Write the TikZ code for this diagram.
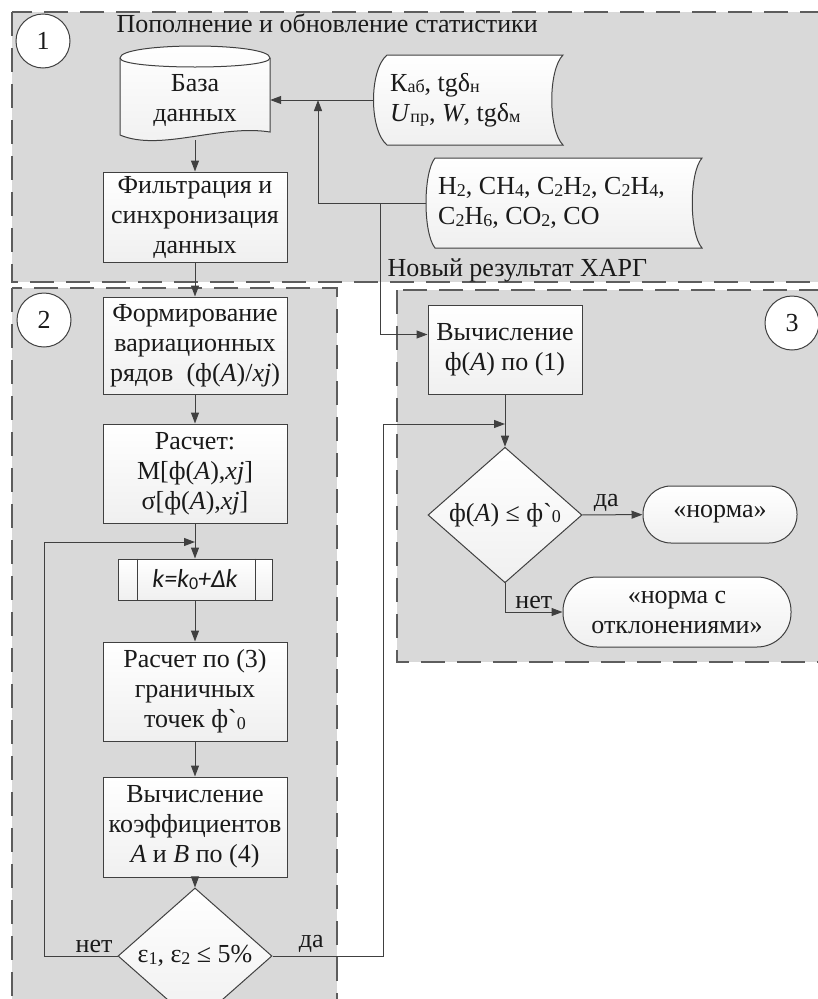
\documentclass[tikz,border=0pt]{standalone}
\usepackage{fontspec}
\setmainfont{Liberation Serif}
\newfontfamily\calfont{Carlito}
\usetikzlibrary{shapes.geometric,arrows.meta}
\definecolor{zone}{HTML}{D9D9D9}
\definecolor{ink}{HTML}{404040}
\definecolor{txt}{HTML}{1A1A1A}
\newcommand\lo[1]{\raisebox{-0.06em}{\fontsize{18}{18}\selectfont #1}}

\begin{document}
\begin{tikzpicture}[x=1pt,y=-1pt,
  font=\fontsize{26}{30}\selectfont, text=txt,
  zonebox/.style={draw=ink!85,fill=zone,line width=1.2pt,dash pattern=on 24pt off 12pt},
  blk/.style={draw=ink,line width=1pt,top color=white,bottom color=gray!12,
    minimum width=184pt,align=center,inner sep=2pt},
  dec/.style={blk,shape=diamond,minimum width=154pt,minimum height=86pt,inner sep=0pt},
  term/.style={blk,rounded corners=28pt},
  num/.style={circle,draw=ink,line width=1pt,fill=white,minimum size=54pt,inner sep=0pt},
  lnk/.style={draw=ink,line width=1pt},
  arr/.style={lnk,-{Triangle[length=11pt,width=8pt]}},
  lbl/.style={inner sep=3pt}]
\useasboundingbox (0,0) rectangle (818,999);

% zones
\draw[zonebox] (12,12) rectangle (850,282);
\draw[zonebox] (12,288) rectangle (337,1030);
\draw[zonebox] (397,290) rectangle (850,662);

\node[num] (n1) at (43,41) {1};
\node[num] (n2) at (44,320) {2};
\node[num] (n3) at (792,323) {3};

\node[anchor=base west] (ttl) at (113,32) {Пополнение и обновление статистики};
\node[anchor=base west] (harg) at (384,276) {Новый результат ХАРГ};

% database
\path[top color=white,bottom color=gray!12] (120,58) .. controls (120,42) and (270,42) .. (270,58)
  -- (270,132) .. controls (220,124) and (160,152) .. (120,135) -- cycle;
\draw[lnk] (120,58) .. controls (120,42) and (270,42) .. (270,58)
  -- (270,132) .. controls (220,124) and (160,152) .. (120,135) -- cycle;
\draw[lnk] (120,58) .. controls (120,70) and (270,70) .. (270,58);
\node[align=center,minimum width=150pt,minimum height=80pt] (db) at (195,100) {База\\данных};

% stored data
\path[top color=white,bottom color=gray!12] (387,55) -- (563,55) .. controls (548,70) and (548,130) .. (563,145)
  -- (387,145) .. controls (369,130) and (369,70) .. cycle;
\draw[lnk] (387,55) -- (563,55) .. controls (548,70) and (548,130) .. (563,145)
  -- (387,145) .. controls (369,130) and (369,70) .. cycle;
\node[anchor=west,align=left,inner xsep=17pt] (kab) at (373,100)
  {К\lo{аб}, tgδ\lo{н}\\\textit{U}\lo{пр}, \textit{W}, tgδ\lo{м}};

\path[top color=white,bottom color=gray!12] (435,158) -- (702,158) .. controls (689,173) and (689,233) .. (702,248)
  -- (435,248) .. controls (423,233) and (423,173) .. cycle;
\draw[lnk] (435,158) -- (702,158) .. controls (689,173) and (689,233) .. (702,248)
  -- (435,248) .. controls (423,233) and (423,173) .. cycle;
\node[anchor=west,align=left,inner xsep=12pt] (gas) at (426,203)
  {H\lo{2}, CH\lo{4}, C\lo{2}H\lo{2}, C\lo{2}H\lo{4},\\C\lo{2}H\lo{6}, CO\lo{2}, CO};

\node[blk,minimum height=90pt] (filt) at (195,217) {Фильтрация и\\синхронизация\\данных};

% zone 2
\node[blk,minimum height=97pt] (form) at (195,345.5) {Формирование\\вариационных\\рядов~ (ф(\textit{A})/\textit{xj})};
\node[blk,minimum height=99pt] (rasch) at (195,473.5) {Расчет:\\М[ф(\textit{A}),\textit{xj}]\\σ[ф(\textit{A}),\textit{xj}]};
\node[blk,minimum width=154pt,minimum height=41pt,font=\calfont\itshape\fontsize{26}{30}\selectfont]
  (kstep) at (195,579.5) {k=k\lo{\upshape 0}+Δk};
\draw[lnk] ([xshift=20pt]kstep.north west) -- ([xshift=20pt]kstep.south west);
\draw[lnk] ([xshift=-17pt]kstep.north east) -- ([xshift=-17pt]kstep.south east);
\node[blk,minimum height=99pt] (bound) at (195,691.5) {Расчет по (3)\\граничных\\точек ф\textasciigrave\lo{0}};
\node[blk,minimum height=100pt] (coef) at (195,827) {Вычисление\\коэффициентов\\\textit{A} и \textit{B} по (4)};
\node[dec] (eps) at (195,956) {ε\lo{1}, ε\lo{2} ≤ 5\%};

% zone 3
\node[blk,minimum width=154pt,minimum height=89pt] (calc) at (505,349.5) {Вычисление\\ф(\textit{A}) по (1)};
\node[dec] (dia) at (505,515) {ф(\textit{A}) ≤ ф\textasciigrave\lo{0}};
\node[term,minimum width=154pt,minimum height=57pt] (norm) at (720,514.5) {«норма»};
\node[term,minimum width=228pt,minimum height=70pt,rounded corners=34pt] (nwd) at (677,612) {«норма с\\отклонениями»};

\coordinate (up) at (318,100);
\coordinate (split) at (380,203);
\coordinate (back) at (195,542);
\coordinate (merge) at (505,424);

\draw[arr] (kab.west) -- (db.east);
\draw[arr] (gas.west) -| (up);
\draw[arr] (split) |- ([yshift=15pt]calc.west);
\draw[arr] (db) -- (filt);
\draw[arr] (filt) -- (form);
\draw[arr] (form) -- (rasch);
\draw[arr] (rasch) -- (kstep);
\draw[arr] (kstep) -- (bound);
\draw[arr] (bound) -- (coef);
\draw[arr] (coef) -- (eps);
\draw[arr] (eps.west) -- node[lbl,above,pos=0.32] {нет} ++(-73,0) |- (back);
\draw[arr] (eps.east) -- node[lbl,above,pos=0.35] {да} ++(111,0) |- (merge);
\draw[arr] (calc) -- (dia);
\draw[arr] (dia) -- node[lbl,above,pos=0.4] {да} (norm);
\draw[arr] (dia) |- node[lbl,above,pos=0.75] {нет} (nwd);
\end{tikzpicture}
\end{document}
